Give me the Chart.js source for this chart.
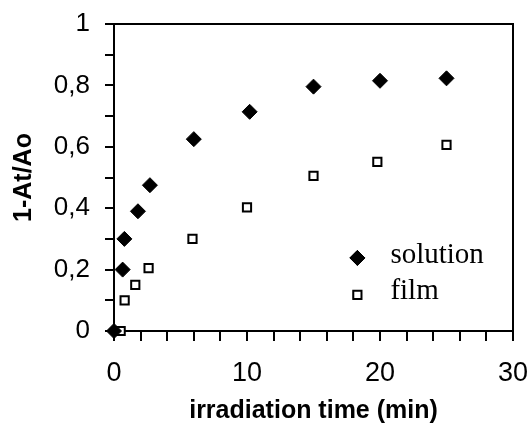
<!DOCTYPE html>
<html><head><meta charset="utf-8">
<script src="https://cdn.jsdelivr.net/npm/chart.js@4/dist/chart.umd.min.js"></script>
<style>html,body{margin:0;padding:0;background:#fff}#wrap{width:530px;height:426px;position:relative}</style>
</head><body><div id="wrap"><canvas id="c" width="530" height="426"></canvas></div>
<script>
const solutionX = [0, 0.65, 0.78, 1.8, 2.7, 6, 10.2, 15, 20, 25];
const solutionY = [0, 0.2, 0.3, 0.39, 0.475, 0.625, 0.714, 0.796, 0.815, 0.823];
const filmX = [0.5, 0.8, 1.6, 2.6, 5.9, 10, 15, 19.8, 25];
const filmY = [0, 0.1, 0.15, 0.205, 0.3, 0.403, 0.505, 0.551, 0.606];
const seriesNames = ['solution', 'film'];
const xTitle = 'irradiation time (min)';
const yTitle = '1-At/Ao';

const toPts = (xs, ys) => xs.map((x, i) => ({x, y: ys[i]}));

const framePlugin = {
  id: 'frame',
  afterDatasetsDraw(chart) {
    const {ctx, chartArea: a} = chart;
    ctx.save();
    ctx.strokeStyle = '#000';
    ctx.lineWidth = 2;
    ctx.beginPath();
    ctx.moveTo(a.left - 9, a.top);
    ctx.lineTo(a.right, a.top);
    ctx.lineTo(a.right, a.bottom + 10);
    ctx.stroke();
    ctx.restore();
  }
};

const legendPlugin = {
  id: 'customLegend',
  afterDraw(chart) {
    const {ctx} = chart;
    const ds = chart.data.datasets;
    const xs = chart.scales.x, ys = chart.scales.y;
    ctx.save();
    ctx.font = '29px "Liberation Serif", "Times New Roman", serif';
    ctx.fillStyle = '#000';
    ctx.textBaseline = 'middle';
    const items = [
      {label: seriesNames[0], ds: ds[0], yv: 0.238},
      {label: seriesNames[1], ds: ds[1], yv: 0.118}
    ];
    items.forEach(it => {
      const py = ys.getPixelForValue(it.yv);
      const px = xs.getPixelForValue(18.3);
      Chart.helpers.drawPoint(ctx, {
        pointStyle: it.ds.pointStyle, radius: it.ds.pointRadius,
        borderWidth: it.ds.borderWidth, rotation: 0
      }, px, py);
      ctx.fillStyle = it.ds.backgroundColor;
      ctx.strokeStyle = '#000';
      ctx.lineWidth = it.ds.borderWidth;
      ctx.fill();
      ctx.stroke();
      ctx.fillStyle = '#000';
      ctx.fillText(it.label, px + 33, py - 3);
    });
    ctx.restore();
  }
};

const zeroPad = s => { s.paddingTop = 0; s.paddingBottom = 0; s.paddingLeft = 0; s.paddingRight = 0; };

new Chart(document.getElementById('c'), {
  type: 'scatter',
  data: {
    datasets: [
      {label: seriesNames[0], data: toPts(solutionX, solutionY), pointStyle: 'rectRot', clip: false,
       pointRadius: 7.5, pointHoverRadius: 7.5, backgroundColor: '#000', borderColor: '#000', borderWidth: 1},
      {label: seriesNames[1], data: toPts(filmX, filmY), pointStyle: 'rect', clip: false,
       pointRadius: 5.8, pointHoverRadius: 5.8, backgroundColor: '#fff', borderColor: '#000', borderWidth: 2}
    ]
  },
  options: {
    responsive: false,
    animation: false,
    events: [],
    layout: {padding: {left: 0, right: 17, top: 24, bottom: 0}},
    plugins: {legend: {display: false}, tooltip: {enabled: false}},
    scales: {
      x: {
        type: 'linear', min: 0, max: 30,
        afterFit(s) { s.height = 95; zeroPad(s); },
        border: {display: true, color: '#000', width: 2},
        grid: {drawOnChartArea: false, drawTicks: true, tickLength: 10, color: '#000', lineWidth: 2},
        ticks: {
          stepSize: 2, autoSkip: false, maxRotation: 0, padding: 16,
          color: '#000', font: {family: '"Liberation Sans", Arial, sans-serif', size: 27},
          callback: v => (Math.round(v) % 10 === 0 ? String(Math.round(v)) : '')
        },
        title: {display: true, text: xTitle, color: '#000',
          font: {family: '"Liberation Sans", Arial, sans-serif', size: 25, weight: 'bold'}, padding: {top: 0, bottom: 0}}
      },
      y: {
        type: 'linear', min: 0, max: 1,
        afterFit(s) { s.width = 114; zeroPad(s); },
        border: {display: true, color: '#000', width: 2},
        grid: {drawOnChartArea: false, drawTicks: true, tickLength: 9, color: '#000', lineWidth: 2},
        ticks: {
          stepSize: 0.1, autoSkip: false, padding: 15,
          color: '#000', font: {family: '"Liberation Sans", Arial, sans-serif', size: 26},
          callback: v => {
            const k = Math.round(v * 10);
            if (k % 2 !== 0) return '';
            if (k === 0) return '0';
            if (k === 10) return '1';
            return (k / 10).toFixed(1).replace('.', ',');
          }
        },
        title: {display: true, text: yTitle, color: '#000',
          font: {family: '"Liberation Sans", Arial, sans-serif', size: 25, weight: 'bold'}, padding: {top: 9, bottom: 0}}
      }
    }
  },
  plugins: [framePlugin, legendPlugin]
});
</script></body></html>
